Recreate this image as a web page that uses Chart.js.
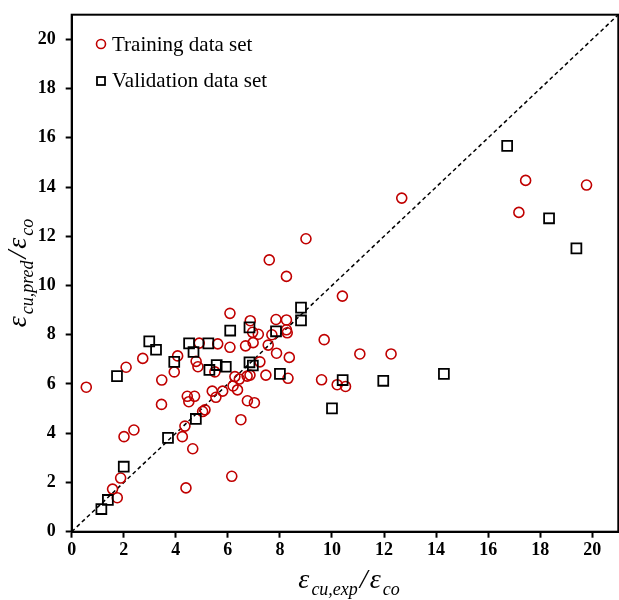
<!DOCTYPE html>
<html>
<head>
<meta charset="utf-8">
<script src="https://cdn.jsdelivr.net/npm/chart.js@4"></script>
<style>
  body { margin: 0; background: #fff; }
  canvas { display: block; }
</style>
</head>
<body>
<canvas id="chart" width="619" height="600"></canvas>
<script>
// training points (exp ratio / predicted ratio)
const trainX = [0.56, 1.57, 1.75, 1.88, 2.01, 2.39, 2.09, 2.73, 3.46, 3.45, 3.94, 4.07, 4.25, 4.35, 4.39, 4.65, 4.44, 4.50,
    4.72, 4.78, 4.85, 4.90, 5.03, 5.12, 5.40, 5.54, 5.50, 5.61, 5.80, 6.08, 6.08, 6.15, 6.20, 6.27, 6.37, 6.44, 6.50, 6.68,
    6.74, 6.75, 6.85, 6.86, 6.97, 7.02, 7.17, 7.23, 7.46, 7.55, 7.59, 7.87, 7.85, 8.25, 8.25, 8.25, 8.28, 8.36, 8.31, 9.00,
    9.70, 9.60, 10.20, 10.52, 10.40, 11.07, 12.27, 12.68, 17.18, 17.44, 19.78, 7.69, 6.95];
const trainY = [5.87, 1.73, 1.38, 2.18, 3.86, 4.13, 6.68, 7.04, 6.16, 5.17, 6.49, 7.14, 3.86, 4.29, 1.78, 3.37, 5.50, 5.28,
    5.50, 6.92, 6.70, 7.66, 4.88, 4.95, 5.71, 5.46, 6.49, 7.63, 5.71, 8.87, 7.49, 2.25, 5.92, 6.30, 5.76, 6.20, 4.55, 7.55,
    6.32, 5.32, 6.36, 8.57, 7.68, 5.24, 8.02, 6.90, 6.36, 7.58, 11.04, 7.25, 8.62, 8.60, 10.37, 8.20, 8.08, 7.08, 6.23, 11.90,
    7.80, 6.17, 5.97, 5.90, 9.57, 7.22, 7.22, 13.55, 12.97, 14.27, 14.08, 8.00, 8.10];

// validation points
const validX = [1.14, 1.39, 2.00, 1.74, 2.98, 3.24, 3.70, 3.94, 4.51, 4.68, 4.77, 5.25, 5.29, 5.57, 5.92, 6.09, 6.83, 6.83,
    6.96, 7.85, 8.00, 8.81, 8.81, 10.00, 10.41, 11.97, 14.30, 16.73, 18.34, 19.39];
const validY = [0.92, 1.29, 2.64, 6.32, 7.73, 7.39, 3.81, 6.90, 7.65, 7.30, 4.58, 7.65, 6.57, 6.77, 6.70, 8.17, 8.30, 6.88,
    6.75, 8.14, 6.41, 9.10, 8.58, 5.01, 6.16, 6.13, 6.41, 15.67, 12.73, 11.51];

// 1:1 reference line
const lineX = [0, 21];
const lineY = [0, 21];

const xTicks = [0, 2, 4, 6, 8, 10, 12, 14, 16, 18, 20];
const yTicks = [0, 2, 4, 6, 8, 10, 12, 14, 16, 18, 20];

const RED = '#C00000';
const SERIF = '"Liberation Serif", "Times New Roman", serif';

function pairs(xs, ys) {
    return xs.map((x, i) => ({x: x, y: ys[i]}));
}

// draws  ε_num / ε_den  centred on (0,0) of the current transform
function drawRatio(ctx, num, den) {
    var big = 'italic 28px ' + SERIF;
    var small = 'italic 18px ' + SERIF;
    var parts = [['\u03B5', big, 0], [num, small, 7], ['/', big, 0], ['\u03B5', big, 0], [den, small, 7]];
    var gap = 2;
    var total = 0;
    parts.forEach(function(p) { ctx.font = p[1]; total += ctx.measureText(p[0]).width + gap; });
    var x = -total / 2;
    ctx.fillStyle = '#000';
    ctx.textAlign = 'left';
    ctx.textBaseline = 'alphabetic';
    parts.forEach(function(p) {
        ctx.font = p[1];
        ctx.fillText(p[0], x, p[2]);
        x += ctx.measureText(p[0]).width + gap;
    });
}

const extras = {
    id: 'extras',
    afterDraw(chart) {
        var ctx = chart.ctx;
        var a = chart.chartArea;
        ctx.save();

        // box around the plot
        ctx.strokeStyle = '#000';
        ctx.lineWidth = 2;
        ctx.strokeRect(a.left, a.top, a.right - a.left, a.bottom - a.top);

        // legend
        ctx.lineWidth = 1.6;
        ctx.strokeStyle = RED;
        ctx.beginPath();
        ctx.arc(101, 44, 4.5, 0, Math.PI * 2);
        ctx.stroke();
        ctx.strokeStyle = '#000';
        ctx.lineWidth = 1.8;
        ctx.strokeRect(97, 77, 8, 8);
        ctx.fillStyle = '#000';
        ctx.font = '21px ' + SERIF;
        ctx.textAlign = 'left';
        ctx.textBaseline = 'alphabetic';
        ctx.fillText('Training data set', 112, 51);
        ctx.fillText('Validation data set', 112, 87);

        // axis titles
        ctx.save();
        ctx.translate(350, 588);
        drawRatio(ctx, 'cu,exp', 'co');
        ctx.restore();

        ctx.save();
        ctx.translate(26, 272);
        ctx.rotate(-Math.PI / 2);
        drawRatio(ctx, 'cu,pred', 'co');
        ctx.restore();

        ctx.restore();
    }
};

// no extra room for the end labels, the plot runs to the canvas edge
function noPad(s) {
    s.paddingLeft = 0;
    s.paddingRight = 0;
    s.paddingTop = 0;
    s.paddingBottom = 0;
}

function axis(ticks, pad, fit) {
    return {
        type: 'linear',
        min: 0,
        max: 21,
        afterBuildTicks: function(s) { s.ticks = ticks.map(v => ({value: v})); },
        afterFit: function(s) { fit(s); noPad(s); },
        ticks: {
            color: '#000',
            padding: pad,
            font: {family: SERIF, size: 18, weight: 'bold'}
        },
        grid: {
            drawOnChartArea: false,
            drawTicks: true,
            tickLength: 6,
            tickWidth: 2,
            tickColor: '#000'
        },
        border: {display: true, color: '#000', width: 2}
    };
}

new Chart(document.getElementById('chart'), {
    type: 'scatter',
    data: {
        datasets: [
            {
                label: 'Validation data set',
                data: pairs(validX, validY),
                pointStyle: 'rect',
                pointRadius: 7,
                borderColor: '#000',
                backgroundColor: 'rgba(0,0,0,0)',
                borderWidth: 1.8,
                order: 1
            },
            {
                label: 'Training data set',
                data: pairs(trainX, trainY),
                pointStyle: 'circle',
                pointRadius: 5,
                borderColor: RED,
                backgroundColor: 'rgba(0,0,0,0)',
                borderWidth: 1.6,
                order: 2
            },
            {
                type: 'line',
                data: pairs(lineX, lineY),
                borderColor: '#000',
                borderWidth: 1.5,
                borderDash: [4, 3],
                pointRadius: 0,
                fill: false,
                order: 3
            }
        ]
    },
    options: {
        responsive: false,
        animation: false,
        layout: {autoPadding: false, padding: {top: 14.7, right: 0.7, left: 0, bottom: 0}},
        plugins: {
            legend: {display: false},
            tooltip: {enabled: false}
        },
        scales: {
            x: axis(xTicks, 2, function(s) { s.height = 68.3; }),
            y: axis(yTicks, 10, function(s) { s.width = 71.7; })
        }
    },
    plugins: [extras]
});
</script>
</body>
</html>
